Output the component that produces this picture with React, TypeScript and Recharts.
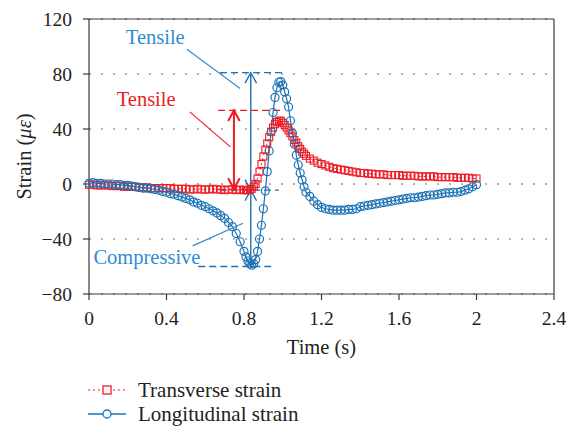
import {
  LineChart,
  Line,
  XAxis,
  YAxis,
  CartesianGrid,
  ReferenceLine,
  ReferenceDot,
} from 'recharts';

// time (s): 0.02 s steps, 0.01 s steps around the pulse
const TIME = [
  0, 0.02, 0.04, 0.06, 0.08, 0.1, 0.12, 0.14, 0.16, 0.18,
  0.2, 0.22, 0.24, 0.26, 0.28, 0.3, 0.32, 0.34, 0.36, 0.38,
  0.4, 0.42, 0.44, 0.46, 0.48, 0.5, 0.52, 0.54, 0.56, 0.58,
  0.6, 0.62, 0.64, 0.66, 0.68, 0.7, 0.72, 0.74, 0.76, 0.78,
  0.8, 0.81, 0.82, 0.83, 0.84, 0.85, 0.86, 0.87, 0.88, 0.89,
  0.9, 0.91, 0.92, 0.93, 0.94, 0.95, 0.96, 0.97, 0.98, 0.99,
  1.0, 1.01, 1.02, 1.03, 1.04, 1.05, 1.06, 1.07, 1.08, 1.09,
  1.1, 1.11, 1.12,
  1.14, 1.16, 1.18, 1.2, 1.22, 1.24, 1.26, 1.28, 1.3, 1.32,
  1.34, 1.36, 1.38, 1.4, 1.42, 1.44, 1.46, 1.48, 1.5, 1.52,
  1.54, 1.56, 1.58, 1.6, 1.62, 1.64, 1.66, 1.68, 1.7, 1.72,
  1.74, 1.76, 1.78, 1.8, 1.82, 1.84, 1.86, 1.88, 1.9, 1.92,
  1.94, 1.96, 1.98, 2.0,
];

const TRANSVERSE = [
  -0.5, -0.5, -1, -1, -1, -1, -1.5, -1.5, -1.5, -2,
  -2, -2, -2, -2.5, -2.5, -2.5, -3, -3, -3, -3,
  -3, -3, -3.5, -3.5, -3.5, -3.5, -4, -4, -3.5, -4,
  -4, -4, -3.5, -4, -4, -4.5, -4, -4, -4.5, -4,
  -4.5, -4.5, -4.5, -4, -3.5, -2, 0, 4, 9, 14.5,
  20, 25, 29.5, 34, 38, 41, 43.5, 45, 46, 46,
  44.5, 43, 41, 39, 37, 34.5, 32, 30, 27.5, 25.5,
  23.5, 22, 20.5,
  18.5, 17, 15.5, 14.5, 13.5, 12.5, 11.5, 11, 10.5, 10,
  9.5, 9, 8.5, 8, 8, 7.5, 7.5, 7, 7, 7,
  6.5, 6.5, 6.5, 6.5, 6, 6, 6, 6, 5.5, 5.5,
  5.5, 5.5, 5.5, 5, 5, 5, 5, 5, 4.5, 4.5,
  4.5, 4.5, 4, 4,
];

const LONGITUDINAL = [
  0.5, 1, 0.5, 0.5, 0, 0, 0, -0.5, -0.5, -1,
  -1, -1.5, -2, -2.5, -3, -3, -3.5, -4, -4.5, -5.5,
  -6, -7, -7.5, -8.5, -9.5, -10.5, -11.5, -13, -14, -15.5,
  -16.5, -18, -19.5, -21, -23, -25, -28, -31, -36, -42,
  -49, -53, -56, -58, -59, -58, -55, -49, -40, -30,
  -18, -5, 9, 24, 38, 52, 63, 70, 74, 74.5,
  72, 67, 62, 56, 46, 37, 29, 21, 14, 8,
  3, -2, -6,
  -9, -12.5, -15, -17, -18, -18.5, -19, -19, -19, -19,
  -18.5, -18.5, -18, -16.5, -16, -15.5, -15, -14.5, -14, -13.5,
  -13, -12.5, -12, -11.5, -11, -10.5, -10, -10, -9.5, -9,
  -8.5, -8, -8, -7.5, -7, -6.5, -6.5, -6, -6, -5.5,
  -4.5, -3.5, -2, -0.5,
];

const X_TICKS = [0, 0.4, 0.8, 1.2, 1.6, 2, 2.4];
const Y_TICKS = [-80, -40, 0, 40, 80, 120];

const RED = '#ed1c24';
const BLUE = '#1d72b5';
const LIGHT_BLUE = '#2f8ccf';
const AXIS = '#3a3a3a';
const FONT = '"Liberation Serif", "Times New Roman", serif';

const data = TIME.map((t, i) => ({
  t,
  transverse: TRANSVERSE[i],
  longitudinal: LONGITUDINAL[i],
}));

const fmtY = (v: number) => (v < 0 ? `\u2212${Math.abs(v)}` : `${v}`);

const renderSquare = (p: any) => (
  <rect
    key={`sq-${p.index}`}
    x={p.cx - 3.5}
    y={p.cy - 3.5}
    width={7}
    height={7}
    fill="none"
    stroke={RED}
    strokeWidth={1.1}
  />
);

// line with open arrow heads at both ends
const arrowShape = (color: string, width: number) => (p: any) => {
  const { x1, y1, x2, y2 } = p;
  const a = Math.atan2(y2 - y1, x2 - x1);
  const L = 12;
  const W = 0.5;
  const head = (x: number, y: number, ang: number) =>
    `M${x - L * Math.cos(ang - W)},${y - L * Math.sin(ang - W)} L${x},${y} L${x - L * Math.cos(ang + W)},${y - L * Math.sin(ang + W)}`;
  return (
    <g>
      <line x1={x1} y1={y1} x2={x2} y2={y2} stroke={color} strokeWidth={width} />
      <path d={head(x2, y2, a)} stroke={color} strokeWidth={width} fill="none" />
      <path d={head(x1, y1, a + Math.PI)} stroke={color} strokeWidth={width} fill="none" />
    </g>
  );
};

const textShape = (label: string, color: string) => (p: any) => (
  <text x={p.cx} y={p.cy} textAnchor="middle" fill={color} fontSize={20.5} fontFamily={FONT}>
    {label}
  </text>
);

const YLabel = (props: any) => {
  const vb = props.viewBox;
  const cx = 16;
  const cy = vb.y + vb.height / 2;
  return (
    <text
      x={cx}
      y={cy}
      dy="0.35em"
      transform={`rotate(-90, ${cx}, ${cy})`}
      textAnchor="middle"
      fill="#222"
      fontSize={20.5}
      fontFamily={FONT}
    >
      Strain (<tspan fontStyle="italic">με</tspan>)
    </text>
  );
};

const App = () => {
  return (
    <div style={{ width: 560, fontFamily: FONT }}>
      <LineChart
        width={560}
        height={362}
        data={data}
        margin={{ top: 11, right: 14, bottom: 12, left: 0 }}
      >
        <CartesianGrid vertical={false} stroke="#9a9a9a" strokeDasharray="2 10" strokeWidth={1.3} />
        <XAxis
          dataKey="t"
          type="number"
          domain={[0, 2.4]}
          ticks={X_TICKS}
          height={64}
          tickMargin={11}
          stroke={AXIS}
          strokeWidth={1.2}
          tick={{ fill: '#222', fontSize: 19.5, fontFamily: FONT }}
          label={{
            value: 'Time (s)',
            position: 'insideBottom',
            offset: 4,
            fill: '#222',
            fontSize: 20.5,
            fontFamily: FONT,
          }}
        />
        <YAxis
          type="number"
          domain={[-80, 120]}
          ticks={Y_TICKS}
          width={81}
          tickMargin={11}
          stroke={AXIS}
          strokeWidth={1.2}
          tickFormatter={fmtY}
          tick={{ fill: '#222', fontSize: 19.5, fontFamily: FONT }}
          label={<YLabel />}
        />
        <ReferenceLine y={120} stroke={AXIS} strokeWidth={1.2} />
        <ReferenceLine x={2.4} stroke={AXIS} strokeWidth={1.2} />

        {/* dashed level markers */}
        <ReferenceLine segment={[{ x: 0.676, y: 81 }, { x: 1.01, y: 81 }]} stroke={BLUE} strokeDasharray="7 4" strokeWidth={1.3} />
        <ReferenceLine segment={[{ x: 0.676, y: -4.5 }, { x: 0.98, y: -4.5 }]} stroke={BLUE} strokeDasharray="7 4" strokeWidth={1.3} />
        <ReferenceLine segment={[{ x: 0.564, y: -60 }, { x: 0.948, y: -60 }]} stroke={BLUE} strokeDasharray="7 4" strokeWidth={1.3} />
        <ReferenceLine segment={[{ x: 0.666, y: 53.5 }, { x: 0.986, y: 53.5 }]} stroke={RED} strokeDasharray="7 4" strokeWidth={1.3} />
        <ReferenceLine segment={[{ x: 0.666, y: -4 }, { x: 0.86, y: -4 }]} stroke={RED} strokeDasharray="7 4" strokeWidth={1.3} />

        <Line
          dataKey="transverse"
          stroke={RED}
          strokeWidth={1}
          strokeDasharray="2 3"
          dot={renderSquare}
          isAnimationActive={false}
        />
        <Line
          dataKey="longitudinal"
          stroke={BLUE}
          strokeWidth={1.2}
          dot={{ r: 4, fill: 'none', stroke: BLUE, strokeWidth: 1.2 }}
          isAnimationActive={false}
        />

        {/* arrows */}
        <ReferenceLine segment={[{ x: 0.748, y: -3.5 }, { x: 0.748, y: 53.5 }]} shape={arrowShape(RED, 2)} />
        <ReferenceLine segment={[{ x: 0.835, y: -4.5 }, { x: 0.835, y: 81 }]} shape={arrowShape(BLUE, 1.4)} />
        <ReferenceLine segment={[{ x: 0.835, y: -4.5 }, { x: 0.835, y: -60 }]} shape={arrowShape(BLUE, 1.4)} />

        {/* leaders */}
        <ReferenceLine segment={[{ x: 0.505, y: 98 }, { x: 0.78, y: 69.5 }]} stroke={LIGHT_BLUE} strokeWidth={1.1} />
        <ReferenceLine segment={[{ x: 0.52, y: 52.5 }, { x: 0.73, y: 27 }]} stroke={RED} strokeWidth={1.1} />
        <ReferenceLine segment={[{ x: 0.535, y: -45 }, { x: 0.795, y: -28.5 }]} stroke={LIGHT_BLUE} strokeWidth={1.1} />

        <ReferenceDot x={0.342} y={101.8} r={0} shape={textShape('Tensile', LIGHT_BLUE)} />
        <ReferenceDot x={0.295} y={56.7} r={0} shape={textShape('Tensile', RED)} />
        <ReferenceDot x={0.299} y={-58.2} r={0} shape={textShape('Compressive', LIGHT_BLUE)} />
      </LineChart>

      <div style={{ marginTop: 8, paddingLeft: 80, fontSize: 21, lineHeight: '24px', color: '#222' }}>
        <div style={{ display: 'flex', alignItems: 'center' }}>
          <svg width={38} height={24} style={{ marginRight: 12 }}>
            <line x1={0} y1={12} x2={38} y2={12} stroke={RED} strokeWidth={1.2} strokeDasharray="2 3" />
            <rect x={15} y={8} width={8} height={8} fill="#fff" stroke={RED} strokeWidth={1.3} />
          </svg>
          <span>Transverse strain</span>
        </div>
        <div style={{ display: 'flex', alignItems: 'center' }}>
          <svg width={38} height={24} style={{ marginRight: 12 }}>
            <line x1={0} y1={12} x2={38} y2={12} stroke={BLUE} strokeWidth={1.3} />
            <circle cx={19} cy={12} r={4} fill="#fff" stroke={BLUE} strokeWidth={1.3} />
          </svg>
          <span>Longitudinal strain</span>
        </div>
      </div>
    </div>
  );
};

export default App;
